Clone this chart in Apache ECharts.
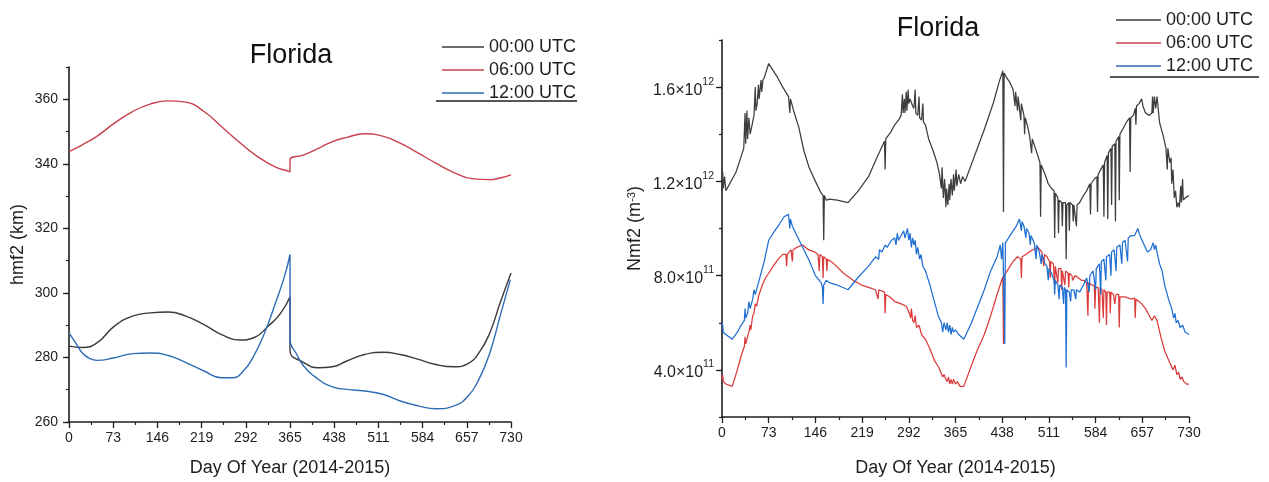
<!DOCTYPE html>
<html>
<head>
<meta charset="utf-8">
<script src="https://cdn.jsdelivr.net/npm/echarts@6/dist/echarts.min.js"></script>
<style>html,body{margin:0;padding:0;background:#fff}#c{width:1269px;height:482px}</style>
</head>
<body>
<div id="c"></div>
<script>
// ---------- DATA ----------
const seriesNames = ['00:00 UTC', '06:00 UTC', '12:00 UTC'];
const dayTicks = [0, 73, 146, 219, 292, 365, 438, 511, 584, 657, 730];
const hmTickLabels = [260, 280, 300, 320, 340, 360];
const nmTickLabels = [4, 8, 12, 16]; // units of 1e11 m^-3

// Left panel: hmF2 (km) vs day
const hm00 = [[0,283.5],[22,283.1],[46,284.5],[75,289.7],[105,292.8],[134,293.8],[164,294.1],[193,292.8],[223,290.2],[252,287.1],[282,285.4],[305,286.1],[329,289.7],[350,293.8],[365,298.8],[365,282.2],[388,278.4],[412,276.8],[435,277.1],[459,278.9],[488,280.9],[518,281.6],[547,280.9],[577,279.4],[606,277.8],[636,277.1],[659,278.1],[677,281.4],[695,287.6],[712,296.9],[730,306.2]];
const hm06 = [[0,343.8],[22,345.9],[46,348.5],[75,352.6],[105,356.2],[134,358.5],[164,359.5],[193,359.1],[223,356.2],[252,351.5],[282,346.6],[311,342.3],[341,339.0],[364,337.6],[365,337.4],[365,341.2],[388,342.8],[412,344.8],[435,346.9],[459,348.2],[488,349.3],[518,348.6],[547,346.4],[577,343.3],[606,340.2],[636,337.3],[665,335.4],[695,335.1],[712,335.6],[730,336.6]];
const hm12 = [[0,287.6],[11,284.5],[22,281.4],[34,279.7],[46,279.1],[75,279.9],[105,281.2],[134,281.4],[164,280.6],[193,278.4],[223,275.8],[252,273.7],[270,273.7],[288,275.8],[305,280.4],[323,287.6],[341,296.9],[356,305.2],[365,311.9],[365,285.6],[376,281.0],[388,277.3],[412,273.2],[435,270.9],[459,270.1],[488,269.6],[518,268.6],[547,266.5],[577,265.0],[606,264.1],[636,265.0],[659,268.0],[677,273.2],[695,281.4],[712,292.8],[729,304.1]];

// Right panel: NmF2 (units of 1e11 m^-3) vs day
const nm00 = [[0,11.6],[1,12.4],[2,11.7],[4,12.2],[6,11.6],[10,11.8],[16,12.1],[22,12.4],[28,12.9],[34,13.4],[36,14.9],[37,13.6],[39,15.0],[40,13.8],[42,14.7],[44,14.0],[47,14.4],[50,14.8],[52,16.0],[53,15.0],[55,15.3],[57,16.1],[58,15.5],[61,16.3],[62,15.8],[64,16.3],[66,16.4],[73,17.0],[80,16.7],[87,16.4],[95,16.0],[104,15.6],[106,14.9],[107,15.5],[113,14.9],[120,14.3],[128,13.3],[136,12.6],[146,12.0],[155,11.5],[158,11.4],[159,9.5],[160,11.4],[163,11.2],[168,11.25],[180,11.2],[197,11.1],[213,11.6],[229,12.2],[242,13.0],[254,13.7],[255,12.5],[256,13.8],[264,14.1],[270,14.4],[276,14.6],[280,14.8],[282,15.7],[283,14.9],[285,15.5],[286,14.9],[288,15.8],[289,15.0],[291,15.9],[292,15.3],[294,15.5],[298,15.2],[300,15.1],[302,15.9],[303,14.9],[306,14.8],[308,15.6],[309,14.7],[312,14.6],[314,15.3],[315,14.5],[318,14.4],[323,13.8],[330,13.3],[336,12.8],[340,12.3],[343,11.7],[344,12.6],[346,11.3],[348,12.1],[350,10.9],[351,11.7],[353,11.0],[355,11.9],[356,11.2],[358,12.1],[360,11.4],[362,12.3],[363,11.6],[366,12.5],[367,11.8],[370,12.3],[373,11.9],[376,12.2],[380,12.0],[395,13.1],[410,14.2],[425,15.4],[433,16.2],[439,16.7],[440,10.7],[441,16.6],[445,16.4],[450,16.2],[455,15.9],[458,15.2],[459,15.8],[462,15.0],[463,15.6],[467,14.6],[468,15.3],[472,14.8],[473,14.0],[474,14.7],[478,14.3],[481,13.9],[484,13.2],[485,13.8],[490,13.4],[497,12.8],[498,10.5],[499,12.7],[505,12.3],[510,11.9],[515,11.7],[519,11.6],[520,9.6],[521,11.5],[525,11.3],[526,9.8],[527,11.2],[531,11.1],[532,10.1],[533,11.1],[537,11.1],[538,8.7],[539,11.0],[542,11.1],[543,9.9],[544,11.1],[548,11.0],[549,10.3],[550,11.0],[553,11.0],[554,10.1],[555,11.0],[559,11.1],[565,11.4],[570,11.6],[575,11.9],[576,10.6],[577,11.9],[582,12.1],[586,12.2],[587,10.7],[588,12.3],[592,12.5],[596,12.7],[597,10.5],[598,12.8],[602,13.1],[603,10.4],[604,13.2],[608,13.4],[609,11.0],[610,13.5],[614,13.6],[615,10.3],[616,13.7],[620,13.9],[621,11.2],[622,14.0],[628,14.3],[632,14.5],[637,14.7],[638,12.4],[639,14.7],[643,14.8],[646,15.1],[647,14.4],[648,15.2],[652,15.3],[656,15.5],[658,15.2],[662,14.9],[668,14.8],[672,14.9],[673,15.6],[674,14.9],[676,15.6],[678,15.1],[680,15.6],[682,15.6],[684,14.5],[686,14.3],[690,13.9],[694,13.4],[696,12.5],[697,13.4],[700,12.8],[702,13.0],[703,11.9],[705,12.5],[707,11.3],[709,11.6],[711,10.9],[713,11.1],[715,10.9],[717,11.8],[718,11.1],[720,12.1],[721,11.2],[724,11.3],[727,11.3],[730,11.4]];
const nm06 = [[0,3.6],[1,3.8],[2,3.5],[6,3.4],[16,3.3],[24,4.0],[30,4.6],[35,5.0],[36,5.4],[37,5.1],[42,5.6],[44,5.9],[45,5.7],[48,6.3],[50,6.4],[52,6.8],[54,6.7],[58,7.2],[63,7.6],[68,7.9],[73,8.1],[80,8.4],[88,8.7],[95,8.9],[100,8.9],[101,8.4],[102,8.9],[108,9.1],[110,8.6],[111,9.1],[117,9.2],[126,9.3],[135,9.1],[145,9.0],[150,8.9],[152,8.2],[153,8.9],[157,8.8],[158,7.9],[159,8.8],[163,8.7],[164,8.2],[165,8.7],[175,8.5],[190,8.1],[205,7.8],[218,7.6],[229,7.5],[240,7.4],[244,7.0],[245,7.4],[254,7.3],[255,6.4],[256,7.2],[262,7.1],[270,6.9],[280,6.8],[288,6.7],[293,6.4],[295,6.2],[296,6.6],[298,6.1],[300,6.0],[302,6.3],[304,5.8],[308,5.9],[312,5.5],[318,5.3],[325,4.9],[332,4.4],[339,4.1],[345,3.7],[347,3.8],[350,3.6],[352,3.5],[354,3.7],[356,3.4],[358,3.6],[360,3.4],[362,3.6],[365,3.4],[368,3.5],[372,3.3],[378,3.3],[390,4.2],[400,4.9],[410,5.5],[420,6.3],[430,7.2],[439,7.95],[440,5.1],[441,8.0],[448,8.3],[455,8.6],[462,8.8],[467,8.7],[468,7.9],[469,8.8],[475,8.9],[480,9.0],[486,9.1],[494,9.2],[500,9.0],[503,8.4],[504,8.9],[508,8.8],[512,8.6],[513,7.9],[514,8.6],[518,8.5],[520,7.6],[521,8.4],[524,8.4],[525,7.7],[526,8.3],[530,8.3],[531,7.4],[532,8.2],[535,8.2],[536,7.6],[537,8.2],[541,8.1],[542,7.5],[543,8.1],[547,8.0],[548,7.8],[552,8.0],[557,7.9],[562,7.8],[566,7.8],[570,7.7],[572,6.3],[573,7.7],[578,7.6],[582,7.6],[583,6.6],[584,7.5],[588,7.5],[590,6.0],[591,7.5],[594,7.4],[596,6.2],[597,7.4],[600,7.3],[601,5.9],[602,7.3],[606,7.3],[607,6.4],[608,7.3],[612,7.2],[614,6.8],[616,7.2],[620,7.2],[621,5.8],[622,7.1],[630,7.1],[640,7.0],[645,7.05],[646,6.2],[647,7.0],[652,6.9],[656,6.8],[662,6.6],[668,6.3],[672,6.1],[676,6.3],[680,6.1],[686,5.4],[692,4.8],[700,4.3],[705,4.0],[708,4.2],[711,3.8],[714,3.9],[716,3.6],[719,3.7],[722,3.5],[726,3.4],[730,3.4]];
const nm12 = [[0,6.0],[1,5.9],[2,5.6],[6,5.5],[16,5.3],[24,5.6],[30,5.9],[35,6.1],[36,6.6],[37,6.2],[40,6.4],[42,6.9],[44,6.6],[48,7.0],[50,7.4],[52,7.2],[56,7.6],[60,8.0],[66,8.6],[73,9.5],[80,9.8],[90,10.2],[97,10.5],[104,10.6],[106,10.0],[107,10.4],[110,10.1],[117,9.7],[128,9.1],[137,8.6],[146,8.0],[155,7.7],[157,7.5],[158,6.8],[159,7.6],[163,7.8],[168,7.7],[180,7.6],[197,7.4],[212,7.9],[229,8.4],[240,8.8],[245,8.7],[246,9.1],[250,9.0],[255,9.3],[258,9.2],[265,9.5],[270,9.6],[272,9.3],[274,9.8],[276,9.5],[280,9.7],[284,9.9],[286,9.6],[290,10.0],[292,9.5],[294,9.8],[296,9.2],[298,9.6],[300,9.3],[302,9.5],[304,8.9],[306,9.2],[309,8.7],[311,8.9],[314,8.4],[318,8.2],[325,7.6],[332,6.9],[338,6.3],[343,6.0],[345,5.6],[347,6.0],[350,5.7],[352,6.0],[354,5.6],[356,5.9],[358,5.5],[360,5.8],[362,5.6],[365,5.7],[370,5.5],[378,5.3],[390,6.0],[400,6.7],[410,7.4],[420,8.2],[430,8.8],[435,9.3],[437,8.7],[439,9.4],[442,5.1],[443,9.4],[448,9.6],[455,9.9],[460,10.1],[465,10.4],[468,9.9],[469,10.3],[472,10.1],[475,9.6],[476,10.0],[480,9.8],[482,9.3],[483,9.7],[488,9.4],[491,8.7],[492,9.3],[496,9.0],[499,8.5],[500,8.9],[505,8.5],[508,8.4],[510,7.8],[511,8.3],[515,8.1],[519,7.8],[520,7.2],[521,7.8],[525,7.6],[527,7.0],[528,7.6],[532,7.5],[534,6.8],[535,7.5],[537,7.4],[538,4.1],[539,7.4],[543,7.3],[545,6.9],[546,7.4],[550,7.4],[553,7.0],[554,7.4],[559,7.3],[565,7.6],[570,7.9],[574,7.3],[575,8.0],[580,8.2],[584,7.4],[585,8.3],[590,8.5],[592,7.2],[593,8.6],[597,8.7],[600,7.8],[601,8.8],[606,8.9],[608,8.0],[609,9.0],[613,9.1],[616,8.2],[617,9.2],[622,9.3],[625,8.5],[626,9.4],[630,9.5],[634,8.6],[635,9.6],[640,9.7],[645,9.7],[650,10.0],[652,9.8],[655,9.6],[660,9.3],[665,9.0],[670,9.1],[674,9.4],[676,9.1],[678,9.3],[680,9.0],[684,8.5],[688,8.2],[692,7.6],[698,7.0],[703,6.6],[706,6.2],[708,6.4],[710,6.0],[713,6.1],[716,5.8],[720,5.9],[724,5.6],[727,5.6],[730,5.5]];

// ---------- STYLE ----------
const FONT = '"Liberation Sans", Arial, sans-serif';
const INK = '#1e1e1e';
const leftColors = ['#3a3a3a', '#c9404c', '#2f6db5'];
const rightColors = ['#3d3d3d', '#db3b3b', '#1f6fd2'];

function xAxisCfg(grid) {
  return {
    gridIndex: grid, type: 'value', min: 0, max: 730, interval: 73,
    name: 'Day Of Year (2014-2015)', nameLocation: 'middle', nameGap: grid === 0 ? 37 : 42,
    nameTextStyle: { fontSize: 18, color: INK, fontFamily: FONT },
    axisLine: { lineStyle: { color: INK, width: 1.6 } },
    axisTick: { length: 6, lineStyle: { color: INK, width: 1.3 } },
    minorTick: { show: true, splitNumber: 2, length: 3, lineStyle: { color: INK, width: 1.2 } },
    splitLine: { show: false }, minorSplitLine: { show: false },
    axisLabel: { fontSize: 14, color: INK, margin: 9, fontFamily: FONT, customValues: dayTicks }
  };
}
const supRich = {
  b: { fontSize: 16, color: INK, fontFamily: FONT, lineHeight: 22, verticalAlign: 'bottom' },
  s: { fontSize: 10.5, color: INK, fontFamily: FONT, lineHeight: 10, verticalAlign: 'top' }
};
function nmLabel(v) {
  const m = { 4: ['4.0', '11'], 8: ['8.0', '11'], 12: ['1.2', '12'], 16: ['1.6', '12'] }[v];
  return m ? '{b|' + m[0] + '×10}{s|' + m[1] + '}' : '';
}
function legendCfg(left, top, w) {
  return { data: seriesNames, orient: 'vertical', left: left, top: top, icon: 'rect',
    itemWidth: w, itemHeight: 1.6, itemGap: 5, selectedMode: false,
    textStyle: { fontSize: 18, color: INK, lineHeight: 18, fontFamily: FONT } };
}
function lineSeries(i, xi, yi, data, colors, smooth, width) {
  return { name: seriesNames[i], type: 'line', xAxisIndex: xi, yAxisIndex: yi, data: data,
    showSymbol: false, symbol: 'none', smooth: smooth, color: colors[i],
    lineStyle: { width: width }, emphasis: { disabled: true } };
}

const option = {
  animation: false,
  backgroundColor: '#ffffff',
  textStyle: { fontFamily: FONT },
  title: [
    { text: 'Florida', left: 286, top: 37, textAlign: 'center', textStyle: { fontSize: 27, fontWeight: 'normal', color: '#111', fontFamily: FONT } },
    { text: 'Florida', left: 933, top: 10, textAlign: 'center', textStyle: { fontSize: 27, fontWeight: 'normal', color: '#111', fontFamily: FONT } }
  ],
  legend: [legendCfg(437, 33, 42), legendCfg(1111, 6, 45)],
  graphic: [
    { type: 'line', shape: { x1: 436, y1: 101, x2: 577, y2: 101 }, style: { stroke: INK, lineWidth: 1.5 } },
    { type: 'line', shape: { x1: 1110, y1: 77, x2: 1259, y2: 77 }, style: { stroke: INK, lineWidth: 1.5 } }
  ],
  grid: [
    { left: 69, top: 67, width: 442, height: 356 },
    { left: 722, top: 40, width: 467, height: 377 }
  ],
  xAxis: [xAxisCfg(0), xAxisCfg(1)],
  yAxis: [
    { gridIndex: 0, type: 'value', min: 260, max: 370, interval: 10,
      name: 'hmf2 (km)', nameLocation: 'middle', nameGap: 42,
      nameTextStyle: { fontSize: 18, color: INK, fontFamily: FONT },
      axisLine: { lineStyle: { color: INK, width: 1.6 } },
      axisTick: { length: 6, customValues: hmTickLabels, lineStyle: { color: INK, width: 1.3 } },
      axisLabel: { fontSize: 14, color: INK, margin: 11, customValues: hmTickLabels, fontFamily: FONT },
      splitLine: { show: false } },
    { gridIndex: 0, type: 'value', min: 260, max: 370, interval: 10, position: 'left',
      axisLine: { show: false }, axisLabel: { show: false },
      axisTick: { length: 3, lineStyle: { color: INK, width: 1.2 } }, splitLine: { show: false } },
    { gridIndex: 1, type: 'value', min: 2, max: 18, interval: 2,
      name: 'Nmf2 (m{s|-3})', nameLocation: 'middle', nameGap: 78,
      nameTextStyle: { fontSize: 18, color: INK, fontFamily: FONT,
        rich: { s: { fontSize: 11, color: INK, verticalAlign: 'top', lineHeight: 11 } } },
      axisLine: { lineStyle: { color: INK, width: 1.6 } },
      axisTick: { length: 6, customValues: nmTickLabels, lineStyle: { color: INK, width: 1.3 } },
      axisLabel: { margin: 8, customValues: nmTickLabels, formatter: nmLabel, rich: supRich },
      splitLine: { show: false } },
    { gridIndex: 1, type: 'value', min: 2, max: 18, interval: 2, position: 'left',
      axisLine: { show: false }, axisLabel: { show: false },
      axisTick: { length: 3, lineStyle: { color: INK, width: 1.2 } }, splitLine: { show: false } }
  ],
  series: [
    lineSeries(0, 0, 0, hm00, leftColors, 0.5, 1.4),
    lineSeries(1, 0, 0, hm06, leftColors, 0.5, 1.4),
    lineSeries(2, 0, 0, hm12, leftColors, 0.5, 1.4),
    lineSeries(0, 1, 2, nm00, rightColors, false, 1.25),
    lineSeries(1, 1, 2, nm06, rightColors, false, 1.25),
    lineSeries(2, 1, 2, nm12, rightColors, false, 1.25)
  ]
};
const chart = echarts.init(document.getElementById('c'), null, { renderer: 'canvas' });
chart.setOption(option);
</script>
</body>
</html>
